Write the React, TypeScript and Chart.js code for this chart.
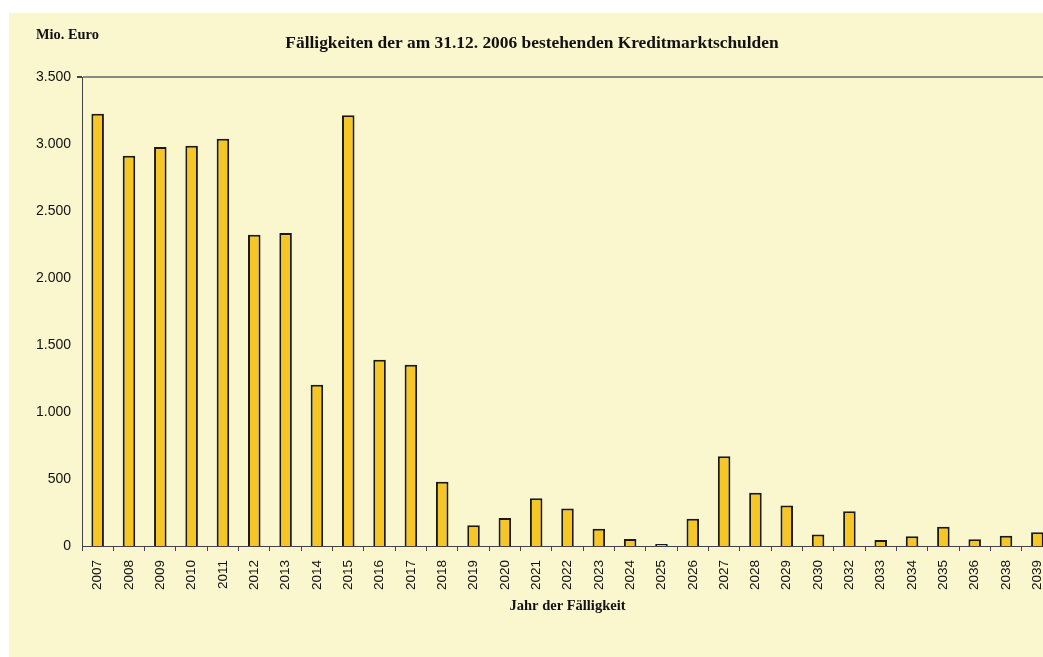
import React, { useEffect, useRef } from "react";
import { Chart, registerables } from "chart.js";

Chart.register(...registerables);

const years: string[] = [
  "2007", "2008", "2009", "2010", "2011", "2012", "2013", "2014", "2015", "2016",
  "2017", "2018", "2019", "2020", "2021", "2022", "2023", "2024", "2025", "2026",
  "2027", "2028", "2029", "2030", "2032", "2033", "2034", "2035", "2036", "2038", "2039",
];

const faelligkeiten: number[] = [
  3225, 2913, 2978, 2987, 3040, 2323, 2336, 1204, 3214, 1390,
  1353, 480, 154, 209, 356, 279, 129, 52, 14, 204,
  669, 398, 303, 85, 259, 45, 72, 144, 50, 77, 102,
];

const chartTitle = "Fälligkeiten der am 31.12. 2006 bestehenden Kreditmarktschulden";
const unitLabel = "Mio. Euro";
const xAxisTitle = "Jahr der Fälligkeit";

const BG = "#FAF6CD";

function formatDE(v: number): string {
  const s = Math.round(v).toString();
  return s.replace(/\B(?=(\d{3})+(?!\d))/g, ".");
}

const textPlugin = {
  id: "textPlugin",
  afterDraw(chart: any) {
    const ctx = chart.ctx;
    ctx.save();
    ctx.fillStyle = "#111";
    ctx.textBaseline = "alphabetic";
    ctx.font = "bold 17.4px 'Liberation Serif'";
    ctx.textAlign = "center";
    ctx.fillText(chartTitle, 523, 34.5);
    ctx.font = "bold 14.4px 'Liberation Serif'";
    ctx.textAlign = "left";
    ctx.fillText(unitLabel, 27, 26);
    ctx.restore();
  },
};

export default function App() {
  const ref = useRef<HTMLCanvasElement>(null);
  useEffect(() => {
    if (!ref.current) return;
    const chart = new Chart(ref.current, {
      type: "bar",
      data: {
        labels: years,
        datasets: [
          {
            data: faelligkeiten,
            backgroundColor: "#F6C624",
            borderColor: "#1a1a1a",
            borderWidth: 2,
            categoryPercentage: 1,
            barPercentage: 0.4,
          },
        ],
      },
      options: {
        responsive: false,
        animation: false,
        layout: { padding: { top: 64, left: 0, right: 16, bottom: 0 } },
        plugins: {
          legend: { display: false },
          tooltip: { enabled: false },
          title: { display: false },
        },
        scales: {
          x: {
            grid: {
              offset: true,
              drawOnChartArea: false,
              tickColor: "#444",
              tickLength: 5,
            },
            border: { display: true, color: "#444", width: 1 },
            ticks: {
              autoSkip: false,
              maxRotation: 90,
              minRotation: 90,
              padding: 9,
              color: "#111",
              font: { family: "'Liberation Sans'", size: 13.5 },
            },
            title: {
              display: true,
              text: xAxisTitle,
              color: "#111",
              font: { family: "'Liberation Serif'", size: 14.5, weight: "bold" },
              padding: { top: 4, bottom: 42 },
            },
            afterFit: (s: any) => {
              s.height = 111;
            },
          },
          y: {
            min: 0,
            max: 3500,
            ticks: {
              stepSize: 500,
              padding: 6,
              color: "#111",
              font: { family: "'Liberation Sans'", size: 14 },
              callback: (v: any) => formatDE(Number(v)),
            },
            grid: {
              color: (c: any) => (c.tick && c.tick.value === 3500 ? "#8a8a82" : "rgba(0,0,0,0)"),
              lineWidth: (c: any) => (c.tick && c.tick.value === 3500 ? 2 : 0),
              tickColor: "#444",
              tickLength: 5,
            },
            border: { display: true, color: "#444", width: 1 },
            afterFit: (s: any) => {
              s.width = 73;
            },
          },
        },
      },
      plugins: [textPlugin],
    });
    return () => chart.destroy();
  }, []);

  return (
    <div
      style={{
        position: "fixed",
        left: 9,
        top: 13,
        width: 1100,
        height: 700,
        background: BG,
      }}
    >
      <canvas ref={ref} width={1060} height={644} style={{ display: "block" }} />
    </div>
  );
}
